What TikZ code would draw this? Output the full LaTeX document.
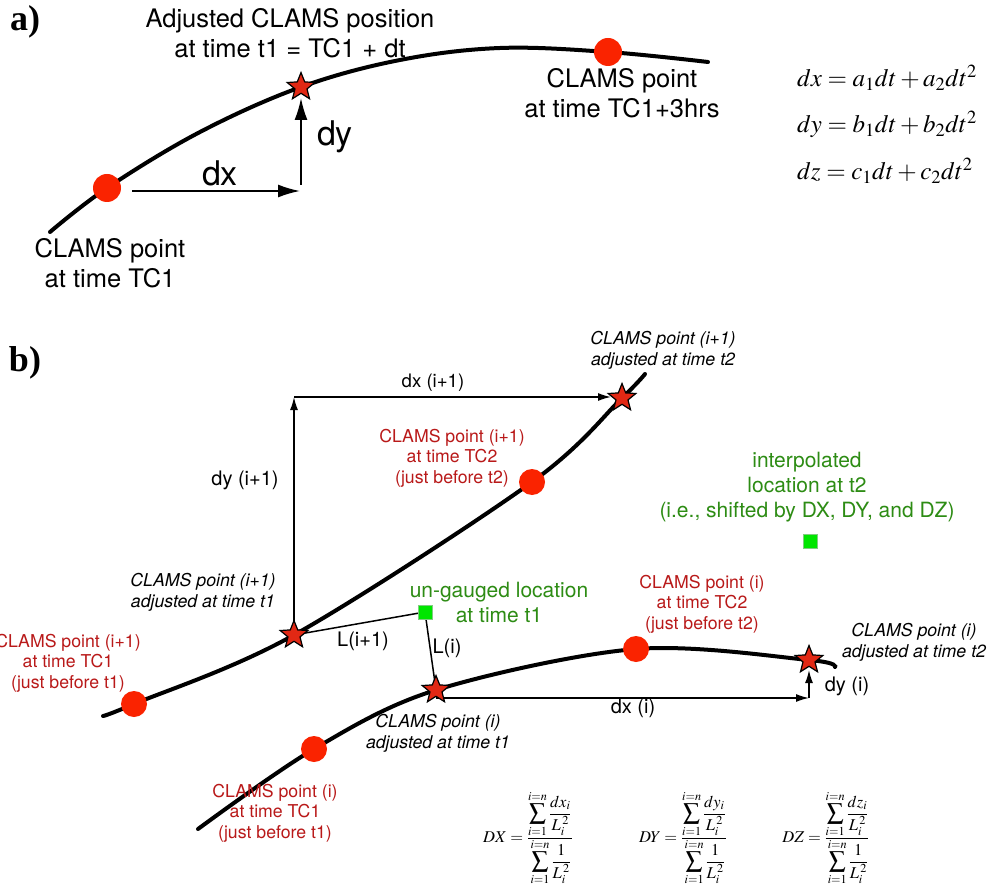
\documentclass[tikz,border=0pt]{standalone}
\usepackage{mathptmx}
\usepackage[no-math]{fontspec}
\setmainfont{TeX Gyre Heros}
\newfontfamily\timesfont{Liberation Serif}
\usetikzlibrary{shapes.geometric,arrows.meta}
\pgfdeclarelayer{bg}
\pgfsetlayers{bg,main}
\definecolor{dotred}{RGB}{250,35,0}
\definecolor{starred}{RGB}{225,40,20}
\definecolor{redtext}{RGB}{185,25,25}
\definecolor{greentext}{RGB}{45,140,20}
\definecolor{sqgreen}{RGB}{0,230,0}
\newcommand{\wfrac}[1]{\frac{\displaystyle\sum_{i=1}^{i=n}\frac{#1}{L_i^{\,2}}\rule[-7pt]{0pt}{7pt}}{\rule{0pt}{14pt}\displaystyle\sum_{i=1}^{i=n}\frac{1}{L_i^{\,2}}}}
\begin{document}
\begin{tikzpicture}[x=1pt,y=-1pt,
  panel/.style={font=\fontsize{36}{40}\selectfont\timesfont\bfseries},
  lblA/.style={font=\fontsize{25.5}{30}\selectfont, align=center},
  lblBig/.style={font=\fontsize{34}{40}\selectfont},
  lblB/.style={font=\fontsize{20}{24}\selectfont},
  itl/.style={font=\fontsize{17.7}{21}\selectfont\itshape, align=center},
  redl/.style={font=\fontsize{17.7}{20.5}\selectfont, text=redtext, align=center},
  grnl/.style={font=\fontsize{21}{25}\selectfont, text=greentext, align=center},
  eq/.style={font=\fontsize{25}{30}\selectfont, inner sep=0pt},
  feq/.style={font=\fontsize{16.5}{19}\selectfont, inner sep=0pt},
  dot/.style={circle, fill=dotred, minimum size=#1, inner sep=0pt},
  dot/.default=28pt,
  starnode/.style={star, star points=5, star point ratio=2.3, minimum size=29pt, inner sep=0pt, fill=starred, draw=black, line width=1.2pt},
  sq/.style={rectangle, fill=sqgreen, draw=green!60!black!50, line width=0.4pt, minimum size=14pt, inner sep=0pt},
  curve/.style={line width=4pt, line cap=round},
  bigarr/.style={line width=1.8pt, -{Latex[length=22pt,width=13pt]}},
  smallarr/.style={line width=1.5pt, -{Latex[length=13pt,width=8pt]}},
  thinline/.style={line width=1.5pt}
]
\useasboundingbox (0,0) rectangle (995,890);

% ---------------- panel a ----------------
\node[panel] (la) at (25,22) {a)};
\node[dot] (adot1) at (107,188) {};
\node[dot] (adot2) at (608,52) {};
\node[starnode] (astar) at (301,87) {};
\node[lblA] (atop) at (290,33.5) {Adjusted CLAMS position\\at time t1 = TC1 + dt};
\node[lblA] (atc1) at (110,263) {CLAMS point\\at time TC1};
\node[lblA] (atc3) at (622,93) {CLAMS point\\at time TC1+3hrs};
\node[lblBig] (adx) at (220,173) {dx};
\node[lblBig] (ady) at (335,137) {dy};
\coordinate (adxs) at (132,191);
\coordinate (acorner) at (300,191);
\coordinate (adys) at (301,185);
\node[eq, anchor=base west] (eq1) at (797,87) {$dx = a_1dt + a_2dt^2$};
\node[eq, anchor=base west] (eq2) at (797,133) {$dy = b_1dt + b_2dt^2$};
\node[eq, anchor=base west] (eq3) at (797,180) {$dz = c_1dt + c_2dt^2$};

% ---------------- panel b ----------------
\node[panel] (lb) at (25,363) {b)};
\node[dot=26pt] (bdotA) at (134,704) {};
\node[starnode] (bstarA) at (294,635) {};
\node[dot=26pt] (bdotB) at (532,482) {};
\node[starnode] (bstarB) at (622,398) {};
\node[dot=26pt] (bdotC) at (314,749) {};
\node[starnode] (bstarC) at (436,690) {};
\node[dot=26pt] (bdotD) at (636,649) {};
\node[starnode] (bstarD) at (809,660) {};
\node[sq] (sq1) at (425,612) {};
\node[sq] (sq2) at (810,541) {};
\coordinate (bcornerA) at (294,397);
\coordinate (bcornerD) at (809,698);

\node[lblB, font=\fontsize{18.6}{22}\selectfont] (bdxA) at (433,383) {dx (i+1)};
\node[lblB] (bdyA) at (245,480) {dy (i+1)};
\node[redl] (rTC2A) at (452,458) {CLAMS point (i+1)\\at time TC2\\(just before t2)};
\node[itl] (iT2A) at (663,350.5) {CLAMS point (i+1)\\adjusted at time t2};
\node[grnl] (gInt) at (807,487.5) {interpolated\\location at t2\\(i.e., shifted by DX, DY, and DZ)};
\node[itl] (iT1A) at (203,592.5) {CLAMS point (i+1)\\adjusted at time t1};
\node[redl] (rTC1A) at (68,663) {CLAMS point (i+1)\\at time TC1\\(just before t1)};
\node[lblB] (lLA) at (363,641) {L(i+1)};
\node[lblB] (lLC) at (447,648) {L(i)};
\node[grnl] (gUng) at (499,602) {un-gauged location\\at time t1};
\node[redl] (rTC2C) at (702,604) {CLAMS point (i)\\at time TC2\\(just before t2)};
\node[itl] (iT1C) at (438,733) {CLAMS point (i)\\adjusted at time t1};
\node[lblB] (bdxC) at (633,708) {dx (i)};
\node[lblB] (bdyC) at (847,686) {dy (i)};
\node[itl] (iT2C) at (914,642.5) {CLAMS point (i)\\adjusted at time t2};
\node[redl] (rTC1C) at (275,813) {CLAMS point (i)\\at time TC1\\(just before t1)};

\node[feq] (fDX) at (528,838) {$DX = \wfrac{dx_i}$};
\node[feq] (fDY) at (683,838) {$DY = \wfrac{dy_i}$};
\node[feq] (fDZ) at (826,838) {$DZ = \wfrac{dz_i}$};

\begin{pgfonlayer}{bg}
\fill[white] (0,0) rectangle (995,890);
% panel a curve and arrows
\draw[curve] plot[smooth, tension=0.6] coordinates {(50,232) (adot1) (200,132) (astar) (400,60) (500,48) (adot2) (708,62)};
\draw[bigarr] (adxs) -- (acorner);
\draw[bigarr, shorten >=11pt] (adys) -- (astar.center);
% panel b curves
\draw[curve] plot[smooth, tension=0.55] coordinates {(103,716) (bdotA) (bstarA) (bdotB) (bstarB) (645,374)};
\draw[curve] plot[smooth, tension=0.55] coordinates {(198,829) (bdotC) (bstarC) (bdotD) (bstarD) (835,667)};
% panel b arrows
\draw[smallarr] (bstarA.center) -- (bcornerA);
\draw[smallarr, shorten >=11pt] (bcornerA) -- (bstarB.center |- bcornerA);
\draw[thinline] (bstarA.center) -- (sq1.center) -- (bstarC.center);
\draw[smallarr] (bstarC.center |- bcornerD) -- (bcornerD);
\draw[smallarr, shorten >=10pt] (bcornerD) -- (bstarD.center);
\end{pgfonlayer}
\end{tikzpicture}
\end{document}
